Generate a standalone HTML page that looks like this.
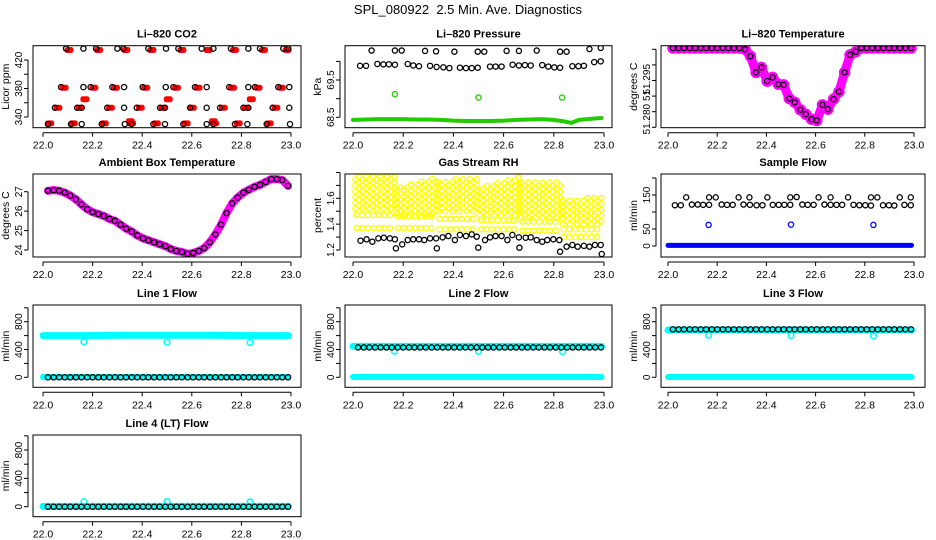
<!DOCTYPE html>
<html><head><meta charset="utf-8"><title>SPL_080922 Diagnostics</title>
<style>
html,body{margin:0;padding:0;background:#fff;}
svg{display:block;font-family:"Liberation Sans",Arial,sans-serif;}
</style></head>
<body>
<svg id="chart" width="936" height="540" viewBox="0 0 936 540" xmlns="http://www.w3.org/2000/svg">
<rect x="0" y="0" width="936" height="540" fill="#fff"/>
<text x="468" y="14" text-anchor="middle" font-size="13" style="white-space:pre">SPL_080922  2.5 Min. Ave. Diagnostics</text>
</svg>
<script>
// ---------- data ----------
const xTickVals = [22.0,22.2,22.4,22.6,22.8,23.0];
const xTickLabels = ["22.0","22.2","22.4","22.6","22.8","23.0"];
const blackT = [22.020,22.043,22.065,22.088,22.110,22.133,22.155,22.178,22.200,22.223,22.245,22.268,22.290,22.313,22.335,22.358,22.380,22.403,22.425,22.448,22.470,22.493,22.515,22.538,22.560,22.583,22.605,22.628,22.650,22.673,22.695,22.718,22.740,22.763,22.785,22.808,22.830,22.853,22.875,22.898,22.920,22.943,22.965,22.988];

// CO2
const co2BlackT = [22.093,22.163,22.214,22.300,22.324,22.425,22.496,22.546,22.640,22.687,22.758,22.828,22.875,22.969,22.989,
 22.073,22.163,22.192,22.280,22.327,22.402,22.495,22.526,22.613,22.660,22.751,22.828,22.855,22.949,22.993,
 22.048,22.138,22.156,22.259,22.327,22.378,22.472,22.492,22.593,22.660,22.714,22.808,22.828,22.926,22.993,
 22.020,22.113,22.156,22.237,22.330,22.357,22.445,22.492,22.566,22.660,22.687,22.774,22.824,22.902,22.996];
const co2BlackV = [436,436,436,436,436,436,436,436,436,436,436,436,436,436,436,
 382,382,382,382,382,382,382,382,382,382,382,382,382,382,382,
 353,353,353,353,353,353,353,353,353,353,353,353,353,353,353,
 330,330,330,330,330,330,330,330,330,330,330,330,330,330,330];
const co2RedT = [22.103,22.222,22.332,22.437,22.558,22.664,22.770,22.887,22.982,
 22.083,22.203,22.290,22.412,22.536,22.623,22.762,22.865,22.959,
 22.167,22.503,22.838,
 22.058,22.148,22.270,22.390,22.482,22.600,22.725,22.818,22.937,
 22.025,22.120,22.245,22.355,22.455,22.575,22.690,22.785,22.910,22.350,22.685];
const co2RedV = [434,434,434,434,434,434,434,434,434,
 381,381,381,381,381,381,381,381,381,
 365,365,365,
 353,353,353,353,353,353,353,353,353,
 331,331,331,331,331,331,331,331,331,334,334];

// Pressure
const presUpT = [22.074,22.167,22.194,22.287,22.331,22.404,22.497,22.523,22.612,22.661,22.732,22.825,22.851,22.942,22.987];
const presUpV = [70.29,70.29,70.29,70.28,70.27,70.26,70.26,70.26,70.28,70.28,70.29,70.26,70.26,70.33,70.36];
const presMidT = [22.028,22.052,22.097,22.121,22.143,22.167,22.218,22.240,22.263,22.307,22.333,22.360,22.384,22.426,22.450,22.473,22.497,22.546,22.568,22.592,22.636,22.661,22.685,22.708,22.754,22.778,22.802,22.825,22.874,22.898,22.920,22.961,22.987];
const presMidV = [69.88,69.88,69.93,69.92,69.92,69.91,69.93,69.89,69.87,69.88,69.85,69.84,69.82,69.83,69.82,69.82,69.83,69.86,69.86,69.86,69.91,69.89,69.90,69.89,69.90,69.86,69.84,69.83,69.87,69.87,69.88,69.98,70.00];
const presGreenT = [22.0,22.05,22.1,22.15,22.2,22.25,22.3,22.35,22.4,22.45,22.5,22.55,22.6,22.65,22.7,22.75,22.8,22.85,22.87,22.9,22.95,22.99];
const presGreenV = [68.43,68.44,68.45,68.45,68.45,68.44,68.44,68.43,68.41,68.40,68.40,68.40,68.41,68.43,68.44,68.45,68.43,68.38,68.35,68.43,68.46,68.48];
const presCalT = [22.167,22.5,22.833];
const presCalV = [69.12,69.03,69.03];

// Li-820 temperature
const tempV = [51.2927,51.2927,51.2927,51.2927,51.2927,51.2927,51.2927,51.2927,51.2927,51.2927,51.2927,51.2927,51.2927,51.2925,51.2914,51.2888,51.2896,51.2874,51.2880,51.2869,51.2868,51.2846,51.2840,51.2828,51.2821,51.2813,51.2811,51.2836,51.2829,51.2845,51.2857,51.2888,51.2916,51.2921,51.2927,51.2927,51.2927,51.2927,51.2927,51.2927,51.2927,51.2927,51.2927,51.2927];

// Ambient box temperature
const ambV = [27.05,27.08,27.05,26.95,26.8,26.6,26.35,26.1,25.95,25.85,25.75,25.6,25.5,25.3,25.1,24.95,24.75,24.6,24.5,24.4,24.3,24.2,24.05,23.95,23.9,23.8,23.85,23.95,24.1,24.4,24.8,25.3,25.9,26.4,26.7,26.95,27.1,27.25,27.35,27.5,27.65,27.65,27.6,27.3];

// Gas stream RH
const rhBlackT = [22.030,22.054,22.077,22.101,22.123,22.147,22.167,22.171,22.196,22.218,22.240,22.263,22.284,22.307,22.331,22.334,22.357,22.380,22.406,22.426,22.450,22.473,22.493,22.499,22.526,22.546,22.568,22.592,22.615,22.635,22.661,22.663,22.688,22.708,22.732,22.754,22.774,22.798,22.822,22.825,22.851,22.874,22.895,22.920,22.942,22.964,22.987,22.991];
const rhBlackV = [1.272,1.283,1.264,1.290,1.295,1.290,1.283,1.213,1.244,1.277,1.283,1.283,1.277,1.290,1.290,1.213,1.298,1.308,1.277,1.316,1.308,1.321,1.303,1.218,1.277,1.298,1.308,1.308,1.277,1.316,1.298,1.218,1.295,1.298,1.277,1.264,1.277,1.283,1.277,1.187,1.226,1.239,1.226,1.232,1.226,1.239,1.239,1.169];
const rhBlkStart = [22.01,22.175,22.34,22.505,22.67,22.835];
const rhBlkEnd = [22.165,22.33,22.495,22.66,22.825,22.99];
const rhBlkTopL = [1.78,1.68,1.73,1.68,1.72,1.58];
const rhBlkTopR = [1.80,1.77,1.77,1.78,1.73,1.62];
const rhBlkBot = [1.52,1.48,1.50,1.47,1.45,1.40];
const rhLow1 = [1.47,1.46,1.44,1.43,1.42,1.36];
const rhLow2 = [1.37,1.37,1.36,1.36,1.35,1.30];

// Sample flow
const sfUpT = presUpT;
const sfUpV = [143,143,143,143,143,143,143,144,143,143,143,143,143,143,143];
const sfLoT = presMidT;
const sfLoV = [120,120,122,122,121,121,122,121,121,122,121,120,120,121,121,121,121,122,121,121,122,121,121,121,121,120,120,119,120,120,119,121,120];
const sfCalT = [22.165,22.5,22.835];
const sfCalV = [62,63,62];
const sfBaseT = [22.0,22.99];
const sfBaseV = [2,2];

// Line flows
const flowBandT = [22.0,22.165,22.335,22.5,22.665,22.835,22.99];
const l1CyanV = [600,600,605,605,605,600,600];
const l2CyanV = [445,445,445,445,445,445,445];
const l3CyanV = [680,680,680,680,680,680,680];
const l4CyanV = [5,5,5,5,5,5,5];
const zeroCyanV = [5,5,5,5,5,5,5];
const dipT = [22.165,22.5,22.835];
const l1DipV = [510,505,500];
const l2DipV = [375,372,368];
const l3DipV = [605,600,595];
const l4DipV = [70,72,68];
const l1BlackV = [0,0,0,0,0,0,0,0,0,0,0,0,0,0,0,0,0,0,0,0,0,0,0,0,0,0,0,0,0,0,0,0,0,0,0,0,0,0,0,0,0,0,0,0];
const l2BlackV = [430,430,430,430,430,430,430,430,430,430,430,430,430,430,430,430,430,430,430,430,430,430,430,430,430,430,430,430,430,430,430,430,430,430,430,430,430,430,430,430,430,430,430,430];
const l3BlackV = [690,690,690,690,690,690,690,690,690,690,690,690,690,690,690,690,690,690,690,690,690,690,690,690,690,690,690,690,690,690,690,690,690,690,690,690,690,690,690,690,690,690,690,690];
const l4BlackV = [0,0,0,0,0,0,0,0,0,0,0,0,0,0,0,0,0,0,0,0,0,0,0,0,0,0,0,0,0,0,0,0,0,0,0,0,0,0,0,0,0,0,0,0];

// ---------- drawing ----------
const NS = "http://www.w3.org/2000/svg";
const svg = document.getElementById('chart');
const COLS = [{l:33,r:301,x22:43,w:248},{l:345,r:612,x22:353,w:251},{l:661,r:925,x22:668,w:246}];
const ROWS = [{t:45.7,b:127.7},{t:174,b:257},{t:305,b:387.3},{t:435,b:516.7}];

function mk(tag, parent){ const e=document.createElementNS(NS,tag); parent.appendChild(e); return e; }

function panel(col,row,name,title,ylab,ref,ticks,labels){
  const C=COLS[col], R=ROWS[row];
  const g=mk('g',svg);
  
  
  const X=v=>C.x22+(v-22)*C.w;
  const Y=v=>ref[1]+(v-ref[0])*(ref[3]-ref[1])/(ref[2]-ref[0]);
  const clip=mk('clipPath',g); clip.setAttribute('id','clip-'+name);
  const cr=mk('rect',clip); cr.setAttribute('x',C.l); cr.setAttribute('y',R.t); cr.setAttribute('width',C.r-C.l); cr.setAttribute('height',R.b-R.t);
  const plot=mk('g',g); plot.setAttribute('clip-path','url(#clip-'+name+')');
  
  
  const box=mk('rect',g);
  box.setAttribute('x',C.l); box.setAttribute('y',R.t); box.setAttribute('width',C.r-C.l); box.setAttribute('height',R.b-R.t);
  box.setAttribute('fill','none'); box.setAttribute('stroke','#000'); box.setAttribute('stroke-width','1');
  
  
  const t=mk('text',g); t.textContent=title;
  t.setAttribute('x',(C.l+C.r)/2); t.setAttribute('y',R.t-8); t.setAttribute('text-anchor','middle');
  t.setAttribute('font-size','11'); t.setAttribute('font-weight','bold');
  
  
  const xa=mk('g',g);
  
  
  const xl=mk('line',xa); xl.setAttribute('x1',X(22)); xl.setAttribute('x2',X(23)); xl.setAttribute('y1',R.b+5); xl.setAttribute('y2',R.b+5); xl.setAttribute('stroke','#000');
  xTickVals.forEach((v,i)=>{
    const tk=mk('line',xa); tk.setAttribute('x1',X(v)); tk.setAttribute('x2',X(v)); tk.setAttribute('y1',R.b+5); tk.setAttribute('y2',R.b+9); tk.setAttribute('stroke','#000');
    
    
    const lb=mk('text',xa); lb.textContent=xTickLabels[i];
    lb.setAttribute('x',X(v)); lb.setAttribute('y',R.b+21); lb.setAttribute('text-anchor','middle'); lb.setAttribute('font-size','10.5');
    
    
  });
  const ya=mk('g',g);
  
  
  const yl=mk('line',ya); yl.setAttribute('x1',C.l-5); yl.setAttribute('x2',C.l-5);
  yl.setAttribute('y1',Y(ticks[0])); yl.setAttribute('y2',Y(ticks[ticks.length-1])); yl.setAttribute('stroke','#000');
  ticks.forEach(v=>{
    const tk=mk('line',ya); tk.setAttribute('x1',C.l-9); tk.setAttribute('x2',C.l-5); tk.setAttribute('y1',Y(v)); tk.setAttribute('y2',Y(v)); tk.setAttribute('stroke','#000');
    
    
  });
  labels.forEach(([v,txt])=>{
    const lb=mk('text',ya); lb.textContent=txt;
    const x=C.l-11, y=Y(v);
    lb.setAttribute('x',x); lb.setAttribute('y',y); lb.setAttribute('text-anchor','middle'); lb.setAttribute('font-size','10');
    lb.setAttribute('transform','rotate(-90 '+x+' '+y+')');
    
    
  });
  const yt=mk('text',g); yt.textContent=ylab;
  const yx=C.l-24, yy=(R.t+R.b)/2;
  yt.setAttribute('x',yx); yt.setAttribute('y',yy); yt.setAttribute('text-anchor','middle'); yt.setAttribute('font-size','10.5');
  yt.setAttribute('transform','rotate(-90 '+yx+' '+yy+')');
  
  
  return {X,Y,plot};
}

function pts(P,ts,vs,color,name,r,sw,fill){
  ts.forEach((t,i)=>{
    const c=mk('circle',P.plot);
    c.setAttribute('cx',P.X(t)); c.setAttribute('cy',P.Y(vs[i])); c.setAttribute('r',r||2.6);
    c.setAttribute('fill',fill||'none'); c.setAttribute('stroke',color); c.setAttribute('stroke-width',sw||1.3);
    
    
  });
}
function line(P,ts,vs,color,w,name){
  const p=mk('polyline',P.plot);
  p.setAttribute('points',ts.map((t,i)=>P.X(t)+','+P.Y(vs[i])).join(' '));
  p.setAttribute('fill','none'); p.setAttribute('stroke',color); p.setAttribute('stroke-width',w);
  p.setAttribute('stroke-linecap','round'); p.setAttribute('stroke-linejoin','round');
  
  
}

// Panel 1: CO2
const p1=panel(0,0,'co2','Li\u2013820 CO2','Licor ppm',[340,117,420,60],[340,360,380,400,420],[[340,'340'],[380,'380'],[420,'420']]);
co2RedT.forEach((t,i)=>{
  const r=mk('rect',p1.plot);
  r.setAttribute('x',p1.X(t)-4); r.setAttribute('y',p1.Y(co2RedV[i])-3); r.setAttribute('width',9); r.setAttribute('height',6); r.setAttribute('rx',2.5);
  r.setAttribute('fill','#f00');
  
  
});
pts(p1,co2BlackT,co2BlackV,'#000','co2-black-point');

// Panel 2: pressure
const p2=panel(1,0,'pressure','Li\u2013820 Pressure','kPa',[68.5,117.3,69.5,80],[68.5,69,69.5,70],[[68.5,'68.5'],[69.5,'69.5']]);
line(p2,presGreenT,presGreenV,'#22cc00',4,'pressure-green-series');
pts(p2,presCalT,presCalV,'#22cc00','pressure-green-point');
pts(p2,presUpT,presUpV,'#000','pressure-black-point');
pts(p2,presMidT,presMidV,'#000','pressure-black-point');

// Panel 3: Li-820 temperature
const p3=panel(2,0,'li820-temp','Li\u2013820 Temperature','degrees C',[51.28,127.3,51.2925,49.3],[51.28,51.2825,51.285,51.2875,51.29,51.2925],[[51.2813,'51.280'],[51.2851,'51'],[51.2877,'51.295']]);
line(p3,blackT,tempV,'#ff00ff',9,'li820-temp-magenta-band');
pts(p3,blackT,tempV,'#ff00ff','li820-temp-magenta-point',5,1.5);
pts(p3,blackT,tempV,'#000','li820-temp-black-point');

// Panel 4: ambient box temp
const p4=panel(0,1,'ambient-temp','Ambient Box Temperature','degrees C',[24,250,27,191.7],[24,25,26,27],[[24,'24'],[25,'25'],[26,'26'],[27,'27']]);
line(p4,blackT,ambV,'#ff00ff',8,'ambient-temp-magenta-series');
pts(p4,blackT,ambV,'#000','ambient-temp-black-point');

// Panel 5: Gas stream RH
const p5=panel(1,1,'gas-rh','Gas Stream RH','percent',[1.2,250,1.6,198.3],[1.2,1.3,1.4,1.5,1.6,1.7,1.8],[[1.2,'1.2'],[1.4,'1.4'],[1.6,'1.6']]);
rhBlkStart.forEach((s,i)=>{
  const e=rhBlkEnd[i];
  let k=0;
  for(let t=s;t<=e+1e-9;t+=0.014){
    const f=(t-s)/(e-s);
    const top=rhBlkTopL[i]+(rhBlkTopR[i]-rhBlkTopL[i])*f;
    const off=(k%2)*0.022; k++;
    for(let v=rhBlkBot[i]+off; v<=top+1e-9; v+=0.045){
      const c=mk('circle',p5.plot);
      c.setAttribute('cx',p5.X(t)); c.setAttribute('cy',p5.Y(v)); c.setAttribute('r',2.6);
      c.setAttribute('fill','none'); c.setAttribute('stroke','#ffff00'); c.setAttribute('stroke-width',1.4);
      
      
    }
  }
  for(let t=s+0.005;t<=e;t+=0.022){
    [rhLow1[i],rhLow2[i]].forEach(v=>{
      const c=mk('circle',p5.plot);
      c.setAttribute('cx',p5.X(t)); c.setAttribute('cy',p5.Y(v)); c.setAttribute('r',2.6);
      c.setAttribute('fill','none'); c.setAttribute('stroke','#ffff00'); c.setAttribute('stroke-width',1.4);
      
      
    });
  }
});
pts(p5,rhBlackT,rhBlackV,'#000','rh-black-point');

// Panel 6: Sample flow
const p6=panel(2,1,'sample-flow','Sample Flow','ml/min',[0,246,150,195],[0,50,100,150,200],[[0,'0'],[50,'50'],[150,'150']]);
line(p6,sfBaseT,sfBaseV,'#0000ff',5,'sample-flow-blue-series');
pts(p6,sfCalT,sfCalV,'#0000ff','sample-flow-blue-point');
pts(p6,sfUpT,sfUpV,'#000','sample-flow-black-point');
pts(p6,sfLoT,sfLoV,'#000','sample-flow-black-point');

// Flow panels
function flowPanel(col,row,name,title,cyanV,dipV,blackV){
  const ref = row===2 ? [0,377.3,800,321.7] : [0,506.7,800,450];
  const P=panel(col,row,name,title,'ml/min',ref,[0,200,400,600,800,1000],[[0,'0'],[400,'400'],[800,'800']]);
  line(P,flowBandT,cyanV,'#00ffff',7,name+'-cyan-series');
  line(P,flowBandT,zeroCyanV,'#00ffff',6,name+'-cyan-zero-series');
  pts(P,dipT,dipV,'#00ffff',name+'-cyan-point',2.8,1.6);
  pts(P,blackT,blackV,'#000',name+'-black-point');
}
flowPanel(0,2,'line1-flow','Line 1 Flow',l1CyanV,l1DipV,l1BlackV);
flowPanel(1,2,'line2-flow','Line 2 Flow',l2CyanV,l2DipV,l2BlackV);
flowPanel(2,2,'line3-flow','Line 3 Flow',l3CyanV,l3DipV,l3BlackV);
flowPanel(0,3,'line4-flow','Line 4 (LT) Flow',l4CyanV,l4DipV,l4BlackV);
</script>
</body></html>
